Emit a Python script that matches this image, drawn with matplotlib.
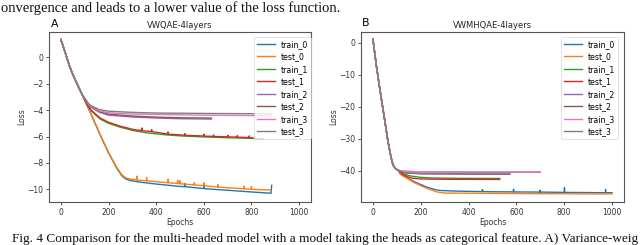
import matplotlib
matplotlib.use("Agg")
import matplotlib.pyplot as plt

# ---------------- data: panel A (VWQAE-4layers) ----------------
head_ep_A = [0, 10, 20, 35, 50, 70, 90]
head_A = [1.35, 0.8, 0.25, -0.6, -1.3, -2.1, -2.85]

a_train0_ep = head_ep_A + [130, 165, 200, 235, 255, 270, 290, 330, 400, 500, 519, 520, 521, 600, 601, 602, 700, 800, 870, 882, 885]
a_train0 = head_A + [-4.45, -5.89, -7.25, -8.41, -8.95, -9.2, -9.33, -9.45, -9.6, -9.78, -9.8, -9.55, -9.8, -9.94, -9.7, -9.95, -10.07, -10.2, -10.28, -10.3, -9.7]

a_test0_ep = head_ep_A + [130, 165, 200, 235, 255, 270, 290, 319, 320, 321, 359, 360, 361, 449, 450, 451, 489, 490, 491, 499, 500, 501, 559, 560, 561, 599, 600, 601, 659, 660, 661, 769, 770, 771, 799, 800, 801, 880]
a_test0 = head_A + [-4.42, -5.85, -7.2, -8.35, -8.88, -9.1, -9.22, -9.28, -9.0, -9.3, -9.35, -9.1, -9.36, -9.5, -9.25, -9.5, -9.55, -9.3, -9.56, -9.57, -9.35, -9.58, -9.66, -9.5, -9.67, -9.72, -9.5, -9.73, -9.82, -9.65, -9.83, -9.96, -9.75, -9.97, -9.99, -9.78, -10.0, -10.05]

a_train1_ep = head_ep_A + [110, 130, 165, 200, 250, 305, 360, 445, 520, 585, 680, 780, 850]
a_train1 = head_A + [-3.6, -4.1, -4.68, -5.0, -5.3, -5.55, -5.72, -5.88, -5.97, -6.02, -6.08, -6.13, -6.17]

a_test1_ep = head_ep_A + [110, 130, 165, 200, 250, 305, 339, 340, 341, 380, 381, 382, 445, 449, 450, 451, 520, 521, 522, 585, 600, 601, 602, 640, 641, 642, 700, 701, 702, 740, 741, 742, 780, 790, 791, 792, 805]
a_test1 = head_A + [-3.58, -4.05, -4.6, -4.92, -5.22, -5.47, -5.55, -5.35, -5.56, -5.62, -5.48, -5.63, -5.8, -5.81, -5.65, -5.82, -5.9, -5.78, -5.91, -5.95, -5.96, -5.82, -5.97, -5.99, -5.88, -6.0, -6.02, -5.9, -6.03, -6.04, -5.93, -6.05, -6.07, -6.08, -5.95, -6.09, -6.1]

a_train2_ep = head_ep_A + [120, 160, 200, 300, 400, 500, 632]
a_train2 = head_A + [-3.7, -4.15, -4.38, -4.52, -4.6, -4.65, -4.68]

a_test2_ep = head_ep_A + [120, 160, 200, 300, 400, 500, 632]
a_test2 = head_A + [-3.68, -4.1, -4.3, -4.45, -4.53, -4.58, -4.6]

a_train3_ep = head_ep_A + [120, 160, 200, 300, 500, 700, 885]
a_train3 = head_A + [-3.65, -4.05, -4.2, -4.3, -4.36, -4.4, -4.42]

a_test3_ep = head_ep_A + [120, 160, 200, 300, 400, 600, 885]
a_test3 = head_A + [-3.6, -3.95, -4.08, -4.17, -4.22, -4.25, -4.28]

# ---------------- data: panel B (VWMHQAE-4layers) ----------------
head_ep_B = [0, 7, 14, 25, 35, 50, 63, 75, 84, 95, 105]
head_B = [1.2, -3.0, -7.0, -12.5, -17.4, -24.5, -30.9, -35.5, -38.2, -39.3, -39.8]

b_train0_ep = head_ep_B + [115, 171, 227, 260, 280, 350, 457, 458, 459, 500, 587, 588, 589, 698, 699, 700, 800, 801, 802, 900, 972, 973, 974, 1000]
b_train0 = head_B + [-41.0, -43.3, -45.1, -45.8, -46.1, -46.3, -46.45, -45.8, -46.45, -46.5, -46.55, -45.7, -46.55, -46.6, -46.0, -46.6, -46.7, -45.2, -46.7, -46.75, -46.8, -45.8, -46.8, -46.8]

b_test0_ep = head_ep_B + [115, 171, 227, 270, 300, 500, 700, 1000]
b_test0 = head_B + [-41.1, -43.6, -45.5, -46.6, -46.9, -47.0, -47.1, -47.2]

b_train1_ep = head_ep_B + [130, 160, 200, 250, 350, 530]
b_train1 = head_B + [-41.0, -41.6, -42.0, -42.2, -42.3, -42.35]

b_test1_ep = head_ep_B + [130, 160, 200, 300, 530]
b_test1 = head_B + [-41.3, -42.2, -42.5, -42.6, -42.65]

b_train2_ep = head_ep_B + [130, 200, 400, 700]
b_train2 = head_B + [-40.1, -40.3, -40.4, -40.4]

b_test2_ep = head_ep_B + [130, 200, 400, 573]
b_test2 = head_B + [-40.6, -40.9, -41.0, -41.0]

b_train3_ep = head_ep_B + [130, 200, 400, 700]
b_train3 = head_B + [-40.1, -40.25, -40.3, -40.3]

b_test3_ep = head_ep_B + [130, 200, 400, 573]
b_test3 = head_B + [-40.5, -40.8, -40.9, -40.9]

labels = ["train_0", "test_0", "train_1", "test_1", "train_2", "test_2", "train_3", "test_3"]
colors = ["#1f77b4", "#ff7f0e", "#2ca02c", "#d62728", "#9467bd", "#8c564b", "#e377c2", "#7f7f7f"]

series_A = [(a_train0_ep, a_train0), (a_test0_ep, a_test0), (a_train1_ep, a_train1), (a_test1_ep, a_test1),
            (a_train2_ep, a_train2), (a_test2_ep, a_test2), (a_train3_ep, a_train3), (a_test3_ep, a_test3)]
series_B = [(b_train0_ep, b_train0), (b_test0_ep, b_test0), (b_train1_ep, b_train1), (b_test1_ep, b_test1),
            (b_train2_ep, b_train2), (b_test2_ep, b_test2), (b_train3_ep, b_train3), (b_test3_ep, b_test3)]

top_caption = "onvergence and leads to a lower value of the loss function."
bottom_caption = ("Fig. 4 Comparison for the multi-headed model with a model taking the heads as "
                  "categorical feature. A) Variance-weig")

W, H = 640, 245
fig = plt.figure(figsize=(6.4, 2.45), dpi=100)

def px_axes(l, t, r, b):
    return fig.add_axes([l / W, 1 - b / H, (r - l) / W, (b - t) / H])

axA = px_axes(49, 32, 311, 202)
axB = px_axes(361, 32, 624, 202)

FS_TICK = 5.5
FS_LEG = 5.6
FS_TITLE = 6.0

def style(ax, series, title, ylim, yticks, leg_anchor):
    for (ep, v), lab, c in zip(series, labels, colors):
        ax.plot(ep, v, color=c, lw=1.0, label=lab)
    ax.set_xlim(-50, 1050)
    ax.set_ylim(*ylim)
    ax.set_xticks([0, 200, 400, 600, 800, 1000])
    ax.set_yticks(yticks)
    ax.tick_params(labelsize=FS_TICK, length=2.5, width=0.6, pad=1.5, colors="#333333")
    for s in ax.spines.values():
        s.set_color("#555555")
        s.set_linewidth(0.8)
    ax.set_title(title, fontsize=FS_TITLE, pad=3, color="#222222")
    ax.set_xlabel("Epochs", fontsize=FS_TICK, labelpad=1, color="#333333")
    ax.set_ylabel("Loss", fontsize=FS_TICK, labelpad=1, color="#333333")
    leg = ax.legend(loc="upper right", bbox_to_anchor=leg_anchor, borderaxespad=0,
                    fontsize=FS_LEG, handlelength=2.3, handletextpad=0.8, labelspacing=0.45,
                    borderpad=0.35, framealpha=0.8, fancybox=True)
    leg.get_frame().set_linewidth(0.5)

style(axA, series_A, "VWQAE-4layers", (-10.96, 1.92), [-10, -8, -6, -4, -2, 0],
      (1.0, 0.971))
style(axB, series_B, "VWMHQAE-4layers", (-49.7, 3.4), [-40, -30, -20, -10, 0],
      (0.977, 0.971))

fig.text(55 / W, 1 - 24 / H, "A", fontsize=7.8, va="center", ha="center")
fig.text(366 / W, 1 - 23 / H, "B", fontsize=7.8, va="center", ha="center")

# captions (serif), each sized so that it spans its measured width
renderer = fig.canvas.get_renderer()

def fit_size(txt, width_px):
    probe = fig.text(0, 0, txt, fontsize=10, family="Liberation Serif")
    w10 = probe.get_window_extent(renderer).width
    probe.remove()
    return 10 * width_px / w10

fs_bot = fit_size(bottom_caption, 638 - 12)
fig.text(12 / W, 3 / H, bottom_caption, fontsize=fs_bot, family="Liberation Serif",
         ha="left", va="baseline", color="#111111")

fs_top = fit_size(top_caption, 340 - 1)
fig.text(1 / W, 1 - 1 / H, top_caption, fontsize=fs_top, family="Liberation Serif",
         ha="left", va="top", color="#111111")

fig.savefig("out.png", dpi=100)
